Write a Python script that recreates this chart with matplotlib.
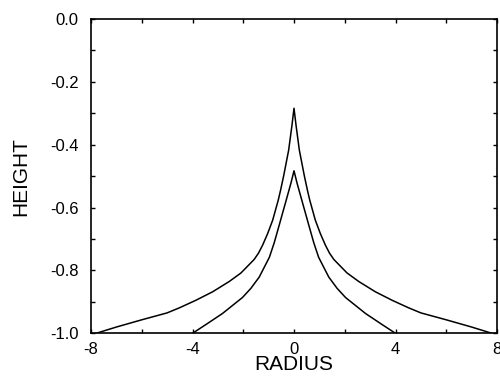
import matplotlib
matplotlib.use("Agg")
import matplotlib.pyplot as plt
from matplotlib.ticker import MultipleLocator, FormatStrFormatter

plt.rcParams["font.family"] = ["Liberation Sans", "DejaVu Sans"]
plt.rcParams["axes.unicode_minus"] = False

# outer profile (wider, higher peak)
OUTER_R = [-7.8, -7.0, -6.0, -5.0, -4.52, -3.87, -3.21, -2.55, -2.09, -1.57,
           -1.40, -1.24, -1.04, -0.84, -0.62, -0.53, -0.41, -0.21, -0.08, 0.0,
           0.08, 0.21, 0.41, 0.53, 0.62, 0.84, 1.04, 1.24, 1.40, 1.57,
           2.09, 2.55, 3.21, 3.87, 4.52, 5.0, 6.0, 7.0, 7.8]
OUTER_H = [-1.0, -0.98, -0.957, -0.935, -0.919, -0.895, -0.868, -0.835, -0.808, -0.765,
           -0.745, -0.720, -0.683, -0.640, -0.576, -0.545, -0.500, -0.417, -0.338, -0.284,
           -0.338, -0.417, -0.500, -0.545, -0.576, -0.640, -0.683, -0.720, -0.745, -0.765,
           -0.808, -0.835, -0.868, -0.895, -0.919, -0.935, -0.957, -0.98, -1.0]

# inner profile (narrower, lower peak)
INNER_R = [-4.0, -3.47, -2.82, -2.03, -1.70, -1.37, -0.97, -0.78, -0.58, -0.32,
           -0.12, 0.0, 0.12, 0.32, 0.58, 0.78, 0.97, 1.37, 1.70, 2.03,
           2.82, 3.47, 4.0]
INNER_H = [-1.0, -0.972, -0.937, -0.886, -0.857, -0.821, -0.758, -0.712, -0.655, -0.580,
           -0.522, -0.483, -0.522, -0.580, -0.655, -0.712, -0.758, -0.821, -0.857, -0.886,
           -0.937, -0.972, -1.0]

fig = plt.figure(figsize=(5.0, 3.76), dpi=100)
ax = fig.add_axes([0.182, 0.1135, 0.812, 0.836])

ax.plot(OUTER_R, OUTER_H, color="black", lw=1.1)
ax.plot(INNER_R, INNER_H, color="black", lw=1.1)

ax.set_xlim(-8, 8)
ax.set_ylim(-1.0, 0.0)
ax.xaxis.set_major_locator(MultipleLocator(4))
ax.xaxis.set_minor_locator(MultipleLocator(2))
ax.yaxis.set_major_locator(MultipleLocator(0.2))
ax.yaxis.set_minor_locator(MultipleLocator(0.1))
ax.yaxis.set_major_formatter(FormatStrFormatter("%.1f"))

ax.tick_params(which="both", direction="in", top=True, right=True,
               length=3, width=1.0, labelsize=12)
ax.tick_params(axis="y", pad=9)
ax.tick_params(axis="x", pad=6)
for s in ax.spines.values():
    s.set_linewidth(1.2)

ax.set_xlabel("RADIUS", fontsize=15, labelpad=-1)
ax.set_ylabel("HEIGHT", fontsize=15, labelpad=14)

fig.savefig("out.png", dpi=100)
